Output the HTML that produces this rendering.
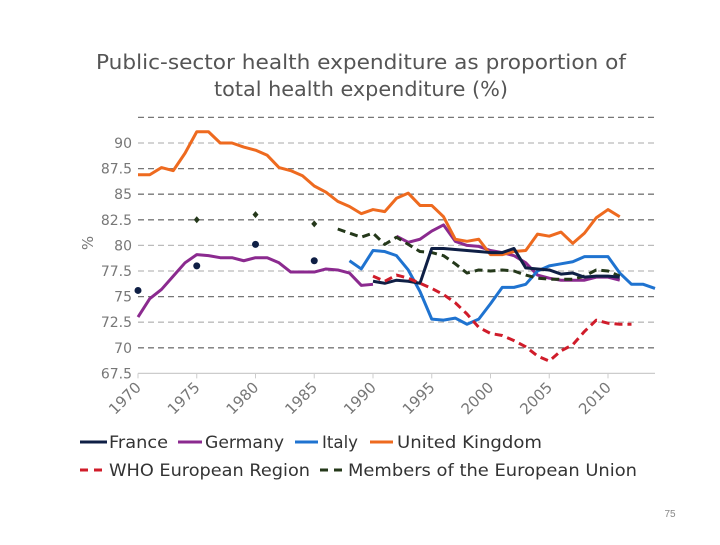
<!DOCTYPE html>
<html><head><meta charset="utf-8"><style>
body{margin:0;background:#fff;width:720px;height:540px;overflow:hidden;font-family:"Liberation Sans","DejaVu Sans",sans-serif}
</style></head><body>
<svg id="chart" width="720" height="540" xmlns="http://www.w3.org/2000/svg">
<text x="361" y="69" text-anchor="middle" font-size="20" fill="#555" font-family="DejaVu Sans, sans-serif" textLength="530" lengthAdjust="spacingAndGlyphs">Public-sector health expenditure as proportion of</text>
<text x="361" y="96" text-anchor="middle" font-size="20" fill="#555" font-family="DejaVu Sans, sans-serif" textLength="294" lengthAdjust="spacingAndGlyphs">total health expenditure (%)</text>
<text x="93" y="243" text-anchor="middle" font-size="15" fill="#777" transform="rotate(-90 93 243)" font-family="DejaVu Sans, sans-serif">%</text>
<g id="grid"></g><g id="axes"></g><g id="series"></g>
<g font-family="DejaVu Sans, sans-serif" font-size="17" fill="#333">
<line x1="80" y1="442" x2="107" y2="442" stroke="#0f1f45" stroke-width="3"/><text x="109" y="448" textLength="59" lengthAdjust="spacingAndGlyphs">France</text>
<line x1="178" y1="442" x2="202" y2="442" stroke="#8b2a8f" stroke-width="3"/><text x="205" y="448" textLength="79" lengthAdjust="spacingAndGlyphs">Germany</text>
<line x1="295" y1="442" x2="318" y2="442" stroke="#1f73d0" stroke-width="3"/><text x="322" y="448" textLength="36" lengthAdjust="spacingAndGlyphs">Italy</text>
<line x1="370" y1="442" x2="393" y2="442" stroke="#ee6a1f" stroke-width="3"/><text x="397" y="448" textLength="145" lengthAdjust="spacingAndGlyphs">United Kingdom</text>
<line x1="80" y1="470" x2="103" y2="470" stroke="#d01c2a" stroke-width="3" stroke-dasharray="8,6"/><text x="109" y="476" textLength="201" lengthAdjust="spacingAndGlyphs">WHO European Region</text>
<line x1="320" y1="470" x2="342" y2="470" stroke="#24381a" stroke-width="3" stroke-dasharray="8,6"/><text x="348" y="476" textLength="289" lengthAdjust="spacingAndGlyphs">Members of the European Union</text>
</g>
<text x="670" y="517" text-anchor="middle" font-size="10" fill="#888">75</text>
</svg>
<script>
const years=[];for(let y=1970;y<=2014;y++)years.push(y);
const yTicks=[67.5,70,72.5,75,77.5,80,82.5,85,87.5,90,92.5];
const xTicks=[1970,1975,1980,1985,1990,1995,2000,2005,2010];
const N=null;
const uk=[86.9,86.9,87.6,87.3,89.0,91.1,91.1,90,90,89.6,89.3,88.8,87.6,87.3,86.8,85.8,85.2,84.3,83.8,83.1,83.5,83.3,84.6,85.1,83.9,83.9,82.8,80.6,80.4,80.6,79.1,79.1,79.4,79.5,81.1,80.9,81.3,80.2,81.2,82.7,83.5,82.8];
const germany=[73.0,74.8,75.7,77.0,78.3,79.1,79.0,78.8,78.8,78.5,78.8,78.8,78.3,77.4,77.4,77.4,77.7,77.6,77.3,76.1,76.2,N,80.9,80.3,80.6,81.4,82.0,80.4,80.0,79.9,79.5,79.3,79.0,78.3,77.1,76.8,76.6,76.6,76.6,76.9,76.9,76.6];
const france=[N,N,N,N,N,N,N,N,N,N,N,N,N,N,N,N,N,N,N,N,76.5,76.3,76.6,76.5,76.3,79.7,79.7,79.6,79.5,79.4,79.3,79.3,79.7,77.8,77.7,77.6,77.2,77.3,76.9,77.0,77.0,76.9];
const franceDotYears=[1970,1975,1980,1985];
const franceDots=[75.6,78.0,80.1,78.5];
const italy=[N,N,N,N,N,N,N,N,N,N,N,N,N,N,N,N,N,N,78.5,77.7,79.5,79.4,79.0,77.6,75.5,72.8,72.7,72.9,72.3,72.8,74.3,75.9,75.9,76.2,77.5,78.0,78.2,78.4,78.9,78.9,78.9,77.3,76.2,76.2,75.8];
const who=[N,N,N,N,N,N,N,N,N,N,N,N,N,N,N,N,N,N,N,N,77.0,76.5,77.1,76.8,76.3,75.8,75.2,74.4,73.3,72.0,71.4,71.2,70.7,70.1,69.2,68.7,69.7,70.3,71.6,72.7,72.4,72.3,72.3];
const eu=[N,N,N,N,N,N,N,N,N,N,N,N,N,N,N,N,N,81.6,81.2,80.8,81.2,80.1,80.8,80.1,79.4,79.3,79.0,78.2,77.3,77.6,77.5,77.6,77.5,77.1,76.8,76.7,76.7,76.7,77.0,77.6,77.5,77.0];
const euDotYears=[1975,1980,1985];
const euDots=[82.5,83.0,82.1];

const NS="http://www.w3.org/2000/svg";
const X=y=>138+(y-1970)*11.75;
const Y=v=>143+(90-v)*10.24;
function mk(tag,attrs,parent){const e=document.createElementNS(NS,tag);for(const k in attrs)e.setAttribute(k,attrs[k]);parent.appendChild(e);return e;}
const grid=document.getElementById('grid'),axes=document.getElementById('axes'),ser=document.getElementById('series');
yTicks.forEach(v=>{
  const dark=[92.5,87.5,85,82.5,75,70].includes(v);
  if(v>67.5){const l=mk('line',{x1:138,x2:655,y1:Y(v),y2:Y(v),stroke:dark?'#777':'#bbb','stroke-width':1.3,'stroke-dasharray':'6,4'},grid);
  
  }
  if(v<92.5){const t=mk('text',{x:132,y:Y(v)+5,'text-anchor':'end','font-size':14,fill:'#777','font-family':'DejaVu Sans, sans-serif'},axes);t.textContent=v;
  
  }
});
const ax=mk('line',{x1:138,x2:655,y1:Y(67.5),y2:Y(67.5),stroke:'#ccc','stroke-width':1.3},axes);


xTicks.forEach(y=>{
  mk('line',{x1:X(y),x2:X(y),y1:Y(67.5),y2:Y(67.5)+5,stroke:'#ccc'},axes);
  const t=mk('text',{x:X(y)+4,y:Y(67.5)+15,'text-anchor':'end','font-size':15,fill:'#777','font-family':'DejaVu Sans, sans-serif',transform:`rotate(-45 ${X(y)+4} ${Y(67.5)+15})`},axes);t.textContent=y;
  
  
});
function line(data,color,dash,name){
  let d='',pen=false;
  data.forEach((v,i)=>{if(v===null){pen=false;return;}d+=(pen?'L':'M')+X(years[i])+','+Y(v)+' ';pen=true;});
  const p=mk('path',{d,fill:'none',stroke:color,'stroke-width':3,'stroke-linejoin':'round'},ser);
  if(dash)p.setAttribute('stroke-dasharray','8,5');
  
  
}
line(germany,'#8b2a8f',false,'germany-line');
line(italy,'#1f73d0',false,'italy-line');
line(uk,'#ee6a1f',false,'uk-line');
line(eu,'#24381a',true,'eu-line');
line(france,'#0f1f45',false,'france-line');
line(who,'#d01c2a',true,'who-line');
franceDots.forEach((v,i)=>{const c=mk('circle',{cx:X(franceDotYears[i]),cy:Y(v),r:3.5,fill:'#0f1f45'},ser);
  
  });
euDots.forEach((v,i)=>{const x=X(euDotYears[i]),y=Y(v);const c=mk('path',{d:`M${x},${y-3.5}L${x+3},${y}L${x},${y+3.5}L${x-3},${y}Z`,fill:'#24381a'},ser);
  
  });
</script>
</body></html>
